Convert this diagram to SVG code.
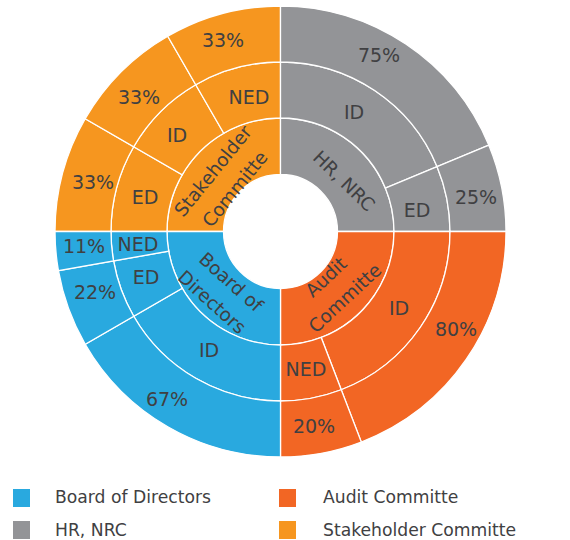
<svg xmlns="http://www.w3.org/2000/svg" width="570" height="540" viewBox="0 0 570 540">
<style>
.seg{stroke:#fff;stroke-width:1.3}
.stk{fill:#F6961F}
.hr{fill:#939497}
.aud{fill:#F26624}
.bod{fill:#29A9DF}
text{font-family:"DejaVu Sans","Liberation Sans",sans-serif;font-size:17.2px;fill:#404042}
.lb{text-anchor:middle;dominant-baseline:central;font-size:19px}
.rl{font-size:18.5px}
</style>
<rect width="570" height="540" fill="#fff"/>
<g id="stakeholder">
<path class="seg stk" d="M167 231.5A113.5 113.5 0 0 1 280.5 118L280.5 174.5A57 57 0 0 0 223.5 231.5Z"/>
<path class="seg stk" d="M111 231.5A169.5 169.5 0 0 1 133.71 146.75L182.21 174.75A113.5 113.5 0 0 0 167 231.5Z"/>
<path class="seg stk" d="M133.71 146.75A169.5 169.5 0 0 1 195.75 84.71L223.75 133.21A113.5 113.5 0 0 0 182.21 174.75Z"/>
<path class="seg stk" d="M195.75 84.71A169.5 169.5 0 0 1 280.5 62L280.5 118A113.5 113.5 0 0 0 223.75 133.21Z"/>
<path class="seg stk" d="M55 231.5A225.5 225.5 0 0 1 85.21 118.75L133.71 146.75A169.5 169.5 0 0 0 111 231.5Z"/>
<path class="seg stk" d="M85.21 118.75A225.5 225.5 0 0 1 167.75 36.21L195.75 84.71A169.5 169.5 0 0 0 133.71 146.75Z"/>
<path class="seg stk" d="M167.75 36.21A225.5 225.5 0 0 1 280.5 6L280.5 62A169.5 169.5 0 0 0 195.75 84.71Z"/>
<text class="lb rl" transform="translate(213 171) rotate(-51)">Stakeholder</text>
<text class="lb rl" transform="translate(235 189) rotate(-51)">Committe</text>
<text class="lb" x="145" y="197">ED</text>
<text class="lb" x="177" y="135">ID</text>
<text class="lb" x="249" y="97">NED</text>
<text class="lb" x="93" y="182">33%</text>
<text class="lb" x="139" y="97">33%</text>
<text class="lb" x="223" y="40">33%</text>
</g>
<g id="hr-nrc">
<path class="seg hr" d="M280.5 118A113.5 113.5 0 0 1 394 231.5L337.5 231.5A57 57 0 0 0 280.5 174.5Z"/>
<path class="seg hr" d="M280.5 62A169.5 169.5 0 0 1 437.1 166.64L385.36 188.07A113.5 113.5 0 0 0 280.5 118Z"/>
<path class="seg hr" d="M437.1 166.64A169.5 169.5 0 0 1 450 231.5L394 231.5A113.5 113.5 0 0 0 385.36 188.07Z"/>
<path class="seg hr" d="M280.5 6A225.5 225.5 0 0 1 488.84 145.21L437.1 166.64A169.5 169.5 0 0 0 280.5 62Z"/>
<path class="seg hr" d="M488.84 145.21A225.5 225.5 0 0 1 506 231.5L450 231.5A169.5 169.5 0 0 0 437.1 166.64Z"/>
<text class="lb rl" transform="translate(344 181) rotate(44)">HR, NRC</text>
<text class="lb" x="354" y="112">ID</text>
<text class="lb" x="417" y="210">ED</text>
<text class="lb" x="379" y="55">75%</text>
<text class="lb" x="476" y="197">25%</text>
</g>
<g id="audit">
<path class="seg aud" d="M394 231.5A113.5 113.5 0 0 1 280.5 345L280.5 288.5A57 57 0 0 0 337.5 231.5Z"/>
<path class="seg aud" d="M450 231.5A169.5 169.5 0 0 1 341.24 389.74L321.18 337.46A113.5 113.5 0 0 0 394 231.5Z"/>
<path class="seg aud" d="M341.24 389.74A169.5 169.5 0 0 1 280.5 401L280.5 345A113.5 113.5 0 0 0 321.18 337.46Z"/>
<path class="seg aud" d="M506 231.5A225.5 225.5 0 0 1 361.31 442.02L341.24 389.74A169.5 169.5 0 0 0 450 231.5Z"/>
<path class="seg aud" d="M361.31 442.02A225.5 225.5 0 0 1 280.5 457L280.5 401A169.5 169.5 0 0 0 341.24 389.74Z"/>
<text class="lb rl" transform="translate(326 277) rotate(-43)">Audit</text>
<text class="lb rl" transform="translate(345 298) rotate(-43)">Committe</text>
<text class="lb" x="399" y="308">ID</text>
<text class="lb" x="306" y="369">NED</text>
<text class="lb" x="456" y="329">80%</text>
<text class="lb" x="314" y="426">20%</text>
</g>
<g id="board">
<path class="seg bod" d="M280.5 345A113.5 113.5 0 0 1 167 231.5L223.5 231.5A57 57 0 0 0 280.5 288.5Z"/>
<path class="seg bod" d="M280.5 401A169.5 169.5 0 0 1 133.71 316.25L182.21 288.25A113.5 113.5 0 0 0 280.5 345Z"/>
<path class="seg bod" d="M133.71 316.25A169.5 169.5 0 0 1 113.58 260.93L168.72 251.21A113.5 113.5 0 0 0 182.21 288.25Z"/>
<path class="seg bod" d="M113.58 260.93A169.5 169.5 0 0 1 111 231.5L167 231.5A113.5 113.5 0 0 0 168.72 251.21Z"/>
<path class="seg bod" d="M280.5 457A225.5 225.5 0 0 1 85.21 344.25L133.71 316.25A169.5 169.5 0 0 0 280.5 401Z"/>
<path class="seg bod" d="M85.21 344.25A225.5 225.5 0 0 1 58.43 270.66L113.58 260.93A169.5 169.5 0 0 0 133.71 316.25Z"/>
<path class="seg bod" d="M58.43 270.66A225.5 225.5 0 0 1 55 231.5L111 231.5A169.5 169.5 0 0 0 113.58 260.93Z"/>
<text class="lb rl" transform="translate(231 282) rotate(42)">Board of</text>
<text class="lb rl" transform="translate(212 302) rotate(42)">Directors</text>
<text class="lb" x="209" y="350">ID</text>
<text class="lb" x="146" y="277">ED</text>
<text class="lb" x="138" y="244">NED</text>
<text class="lb" x="167" y="399">67%</text>
<text class="lb" x="95" y="292">22%</text>
<text class="lb" x="84" y="246">11%</text>
</g>
<g id="legend">
<rect class="bod" x="13" y="489" width="17" height="18"/>
<text x="55" y="503">Board of Directors</text>
<rect class="hr" x="13" y="521" width="17" height="18"/>
<text x="55" y="536">HR, NRC</text>
<rect class="aud" x="279" y="489" width="17" height="18"/>
<text x="323" y="503">Audit Committe</text>
<rect class="stk" x="279" y="521" width="17" height="18"/>
<text x="323" y="536">Stakeholder Committe</text>
</g>
</svg>
